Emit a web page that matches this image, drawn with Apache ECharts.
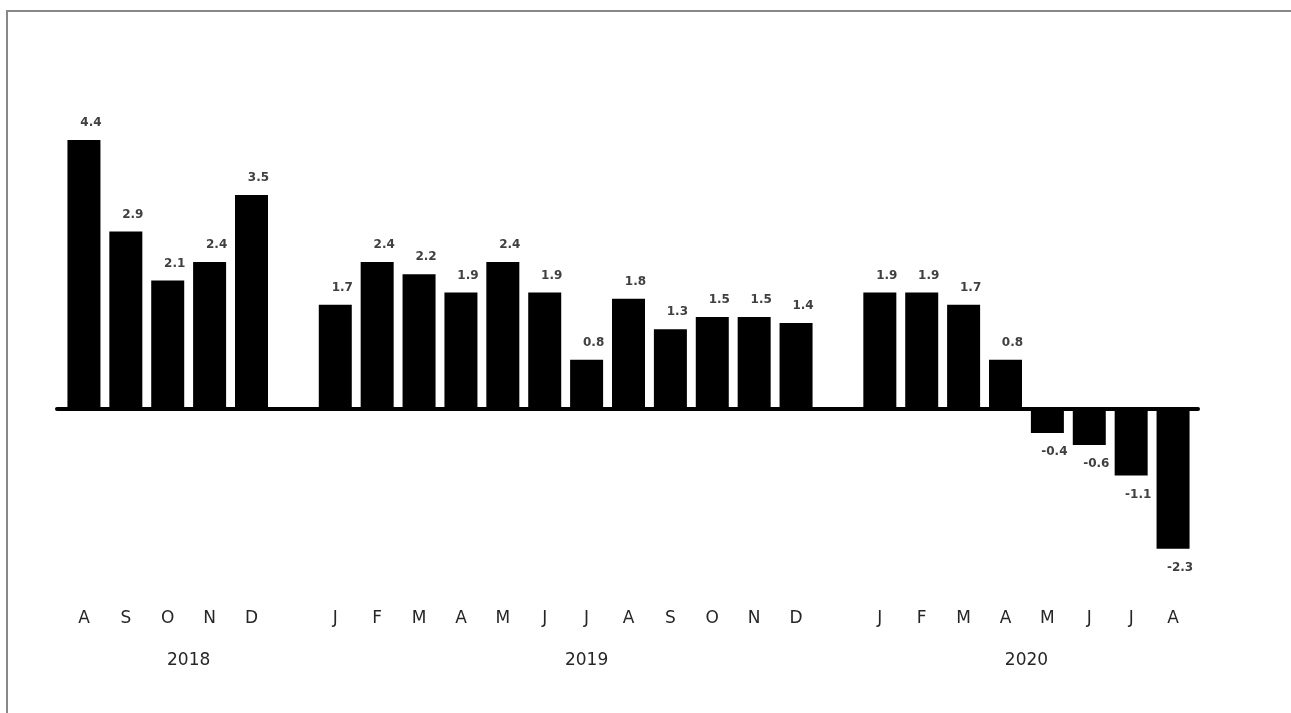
<!DOCTYPE html>
<html>
<head>
<meta charset="utf-8">
<script src="https://cdn.jsdelivr.net/npm/echarts@6/dist/echarts.min.js"></script>
<style>
  html, body { margin: 0; padding: 0; background: #fff; }
  #frame { position: absolute; left: 6px; top: 10px; width: 1400px; height: 800px;
           border-top: 2px solid #888; border-left: 2px solid #888; }
  #chart { position: absolute; left: 0; top: 0; width: 1291px; height: 713px; }
</style>
</head>
<body>
<div id="frame"></div>
<div id="chart"></div>
<script>
// ---- data ----
const years = ['2018', '2019', '2020'];
const months2018 = ['A', 'S', 'O', 'N', 'D'];
const months2019 = ['J', 'F', 'M', 'A', 'M', 'J', 'J', 'A', 'S', 'O', 'N', 'D'];
const months2020 = ['J', 'F', 'M', 'A', 'M', 'J', 'J', 'A'];
const values2018 = [4.4, 2.9, 2.1, 2.4, 3.5];
const values2019 = [1.7, 2.4, 2.2, 1.9, 2.4, 1.9, 0.8, 1.8, 1.3, 1.5, 1.5, 1.4];
const values2020 = [1.9, 1.9, 1.7, 0.8, -0.4, -0.6, -1.1, -2.3];

// ---- build categories with a gap slot after each year (except last) ----
const groups = [
  { months: months2018, values: values2018, gap: true },
  { months: months2019, values: values2019, gap: true },
  { months: months2020, values: values2020, gap: false }
];
const categories = [];
const seriesValues = [];
const groupSpans = [];
groups.forEach(g => {
  const start = categories.length;
  g.months.forEach((m, i) => { categories.push(m); seriesValues.push(g.values[i]); });
  if (g.gap) { categories.push(''); seriesValues.push(null); }
  groupSpans.push([start, categories.length]);
});
const nSlots = categories.length;
// year labels on a half-slot boundary axis (boundaryGap false, 2*n+1 points)
const yearTicks = new Array(2 * nSlots + 1).fill('');
groupSpans.forEach((s, i) => { yearTicks[s[0] + s[1]] = years[i]; });

const barData = seriesValues.map(v => v === null ? null : {
  value: v,
  label: v < 0 ? { position: 'bottom', distance: 13 } : { position: 'top', distance: 11 }
});

const chart = echarts.init(document.getElementById('chart'), null, { renderer: 'canvas' });
const TOP = 103.5, H = 488;
chart.setOption({
  backgroundColor: 'transparent',
  animation: false,
  grid: [
    { left: 63, width: 1131, top: TOP, height: H },
    { left: 57, width: 1141, top: TOP, height: H }
  ],
  xAxis: [
    {
      type: 'category', gridIndex: 0, data: categories,
      axisLine: { show: false, onZero: false }, axisTick: { show: false },
      axisLabel: { interval: 0, margin: 19, color: '#262626', fontSize: 17,
                   fontFamily: 'DejaVu Sans', hideOverlap: false }
    },
    {
      type: 'category', gridIndex: 0, data: yearTicks, boundaryGap: false,
      position: 'bottom', offset: 42,
      axisLine: { show: false, onZero: false }, axisTick: { show: false },
      axisLabel: { interval: 0, margin: 19, color: '#262626', fontSize: 17,
                   fontFamily: 'DejaVu Sans', hideOverlap: false }
    },
    {
      type: 'value', gridIndex: 1, min: 0, max: 1,
      axisLine: { show: true, onZero: true, lineStyle: { color: '#000', width: 4 } },
      axisTick: { show: false }, axisLabel: { show: false }, splitLine: { show: false }
    }
  ],
  yAxis: [
    { type: 'value', gridIndex: 0, min: -3, max: 5, show: false, splitLine: { show: false } },
    { type: 'value', gridIndex: 1, min: -3, max: 5, show: false, splitLine: { show: false } }
  ],
  series: [{
    type: 'bar',
    xAxisIndex: 0, yAxisIndex: 0,
    data: barData,
    barWidth: 33,
    itemStyle: { color: '#000' },
    label: {
      show: true, offset: [7, 0],
      color: '#404040', fontSize: 12, fontWeight: 'bold', fontFamily: 'DejaVu Sans',
      formatter: p => p.value.toFixed(1)
    },
    z: 2
  }]
});
</script>
</body>
</html>
